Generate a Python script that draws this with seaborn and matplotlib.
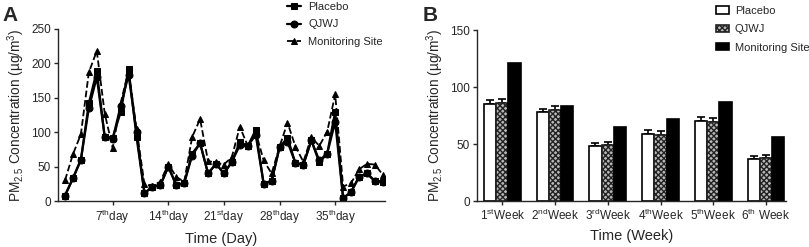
import numpy as np
import pandas as pd
import seaborn as sns
import matplotlib.pyplot as plt

# panel A: daily PM2.5
days = list(range(1, 42))
placebo_day = [8, 33, 60, 142, 189, 93, 92, 129, 192, 93,
               11, 21, 23, 50, 23, 26, 69, 84, 40, 54,
               40, 57, 86, 80, 103, 25, 29, 78, 92, 55,
               53, 88, 56, 69, 130, 4, 13, 35, 40, 29, 28]
qjwj_day = [8, 33, 60, 135, 180, 93, 90, 138, 183, 100,
            11, 21, 23, 50, 23, 26, 66, 84, 40, 54,
            40, 57, 81, 80, 96, 25, 29, 78, 86, 55,
            53, 88, 59, 69, 115, 4, 13, 35, 40, 29, 28]
site_day = [30, 68, 97, 187, 218, 127, 77, 142, 190, 105,
            24, 22, 28, 54, 35, 28, 93, 119, 58, 56,
            53, 64, 108, 80, 100, 59, 40, 79, 114, 79,
            57, 93, 80, 101, 155, 21, 26, 46, 54, 53, 38]
day_ticks = [7, 14, 21, 28, 35]
day_labels = ["7$^{th}$day", "14$^{th}$day", "21$^{st}$day", "28$^{th}$day", "35$^{th}$day"]

# panel B: weekly means
weeks = ["1$^{st}$Week", "2$^{nd}$Week", "3$^{rd}$Week", "4$^{th}$Week", "5$^{th}$Week", "6$^{th}$ Week"]
placebo_week = [85, 78, 48, 58.5, 70, 37]
qjwj_week = [86, 80, 49.5, 58, 69, 38]
site_week = [121.5, 83, 65, 71.5, 86.5, 56.5]
placebo_err = [3.5, 3, 2.5, 3.5, 3.5, 2.5]
qjwj_err = [3.5, 3, 2.5, 3.5, 3.5, 2.5]
groups = ["Placebo", "QJWJ", "Monitoring Site"]

sns.set_style("ticks")
plt.rcParams['font.family'] = ['Liberation Sans', 'DejaVu Sans']
plt.rcParams['mathtext.fontset'] = 'custom'
plt.rcParams['mathtext.rm'] = 'Liberation Sans'
plt.rcParams['mathtext.it'] = 'Liberation Sans'

fig = plt.figure(figsize=(8.09, 2.47), dpi=100)
ax1 = fig.add_axes([0.0717, 0.1862, 0.404, 0.6964])
ax2 = fig.add_axes([0.5896, 0.1862, 0.382, 0.6923])

ylab = "PM$_{2.5}$ Concentration (µg/m$^3$)"

# ---- A ----
sns.lineplot(x=days, y=placebo_day, ax=ax1, color="black", marker="s", markersize=5,
             markeredgecolor="black", linewidth=1.6, label="Placebo")
sns.lineplot(x=days, y=qjwj_day, ax=ax1, color="black", marker="o", markersize=5,
             markeredgecolor="black", linewidth=1.6, label="QJWJ")
sns.lineplot(x=days, y=site_day, ax=ax1, color="black", marker="^", markersize=5,
             markeredgecolor="black", linewidth=1.3, linestyle="--", label="Monitoring Site")
ax1.set_xlim(0.12, 41.25)
ax1.set_ylim(0, 250)
ax1.set_yticks([0, 50, 100, 150, 200, 250])
ax1.set_xticks(day_ticks)
ax1.set_xticklabels(day_labels)
ax1.set_xlabel("Time (Day)", fontsize=10.5, labelpad=4)
ax1.set_ylabel(ylab, fontsize=9.8, labelpad=3)
ax1.tick_params(labelsize=8.5, length=3, width=1, pad=2)
ax1.legend(loc="upper left", bbox_to_anchor=(0.352, 1.0), bbox_transform=fig.transFigure,
           frameon=False, fontsize=8, handlelength=1.3, handletextpad=0.6, labelspacing=0.65,
           borderaxespad=0, borderpad=0.2)

# ---- B ----
df = pd.DataFrame({
    "week": weeks * 3,
    "group": [g for g in groups for _ in weeks],
    "value": placebo_week + qjwj_week + site_week,
})
sns.barplot(data=df, x="week", y="value", hue="group", ax=ax2, width=0.7,
            palette=["white", "#b8b8b8", "black"], edgecolor="black", linewidth=1.2,
            errorbar=None, legend=False, saturation=1)
for p in ax2.containers[1].patches:
    p.set_hatch("xxxxxx")
    p.set_edgecolor("#222222")
for cont, err in zip(ax2.containers[:2], [placebo_err, qjwj_err]):
    xs = [p.get_x() + p.get_width() / 2 for p in cont.patches]
    ys = [p.get_height() for p in cont.patches]
    ax2.errorbar(xs, ys, yerr=[np.zeros(len(err)), err], fmt="none", ecolor="black",
                 elinewidth=1.2, capsize=3, capthick=1.2, zorder=0)
ax2.set_xlim(-0.48, 5.38)
ax2.set_ylim(0, 150)
ax2.set_yticks([0, 50, 100, 150])
ax2.set_xlabel("Time (Week)", fontsize=10.5, labelpad=4)
ax2.set_ylabel(ylab, fontsize=9.8, labelpad=3)
ax2.tick_params(labelsize=8.5, length=3, width=1, pad=2)
ax2.legend(ax2.containers, groups, loc="upper left", bbox_to_anchor=(0.882, 0.985),
           bbox_transform=fig.transFigure, frameon=False, fontsize=8,
           handlelength=1.2, handleheight=0.6, handletextpad=0.5, labelspacing=0.75,
           borderaxespad=0, borderpad=0.2)

for a in (ax1, ax2):
    sns.despine(ax=a)
    for s in a.spines.values():
        s.set_linewidth(1)

fig.text(0.003, 0.915, "A", fontsize=15, fontweight="bold")
fig.text(0.522, 0.915, "B", fontsize=15, fontweight="bold")

fig.savefig("out.png", dpi=100)
